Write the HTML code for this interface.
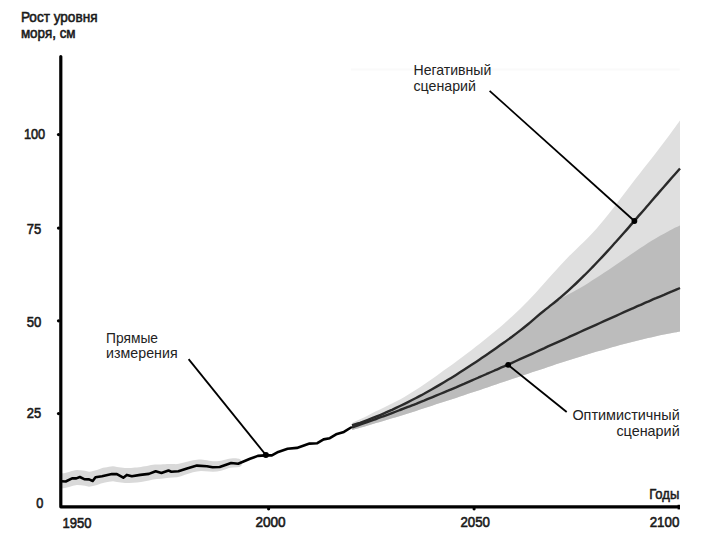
<!DOCTYPE html>
<html><head><meta charset="utf-8"><style>html,body{margin:0;padding:0;background:#fff;width:703px;height:543px;overflow:hidden}</style></head>
<body><svg width="703" height="543" viewBox="0 0 703 543" style="display:block">
<rect width="703" height="543" fill="#fff"/>
<path d="M61.0,473.4 C61.7,473.3 63.7,473.1 65.0,472.9 C66.3,472.7 67.7,472.3 69.0,471.9 C70.3,471.6 71.7,471.1 73.0,470.8 C74.3,470.5 75.7,470.1 77.0,470.0 C78.3,469.9 79.7,470.2 81.0,470.3 C82.3,470.4 83.7,470.5 85.0,470.7 C86.3,470.9 87.7,471.7 89.0,471.7 C90.3,471.8 91.7,471.3 93.0,471.0 C94.3,470.7 95.7,470.5 97.0,470.0 C98.3,469.6 99.7,468.8 101.0,468.4 C102.3,468.0 103.7,467.9 105.0,467.6 C106.3,467.4 107.7,467.0 109.0,466.8 C110.3,466.6 111.7,466.3 113.0,466.3 C114.3,466.3 115.7,466.7 117.0,466.9 C118.3,467.1 119.7,467.4 121.0,467.6 C122.3,467.8 123.7,468.0 125.0,468.1 C126.3,468.1 127.7,468.1 129.0,468.0 C130.3,467.9 131.7,467.8 133.0,467.7 C134.3,467.6 135.7,467.6 137.0,467.5 C138.3,467.3 139.7,467.1 141.0,466.9 C142.3,466.7 143.7,466.6 145.0,466.3 C146.3,466.1 147.7,465.8 149.0,465.5 C150.3,465.2 151.7,464.9 153.0,464.7 C154.3,464.6 155.7,464.6 157.0,464.5 C158.3,464.5 159.7,464.5 161.0,464.5 C162.3,464.4 163.7,464.4 165.0,464.3 C166.3,464.2 167.7,464.0 169.0,464.0 C170.3,464.0 171.7,464.0 173.0,464.0 C174.3,464.0 175.7,464.2 177.0,464.1 C178.3,463.9 179.7,463.6 181.0,463.3 C182.3,463.1 183.7,462.7 185.0,462.3 C186.3,461.9 187.7,461.6 189.0,461.2 C190.3,460.8 191.7,460.4 193.0,460.2 C194.3,459.9 195.7,459.8 197.0,459.7 C198.3,459.6 199.7,459.6 201.0,459.6 C202.3,459.7 203.7,459.9 205.0,460.1 C206.3,460.3 207.7,460.5 209.0,460.7 C210.3,460.9 211.7,461.1 213.0,461.2 C214.3,461.3 215.7,461.3 217.0,461.3 C218.3,461.2 219.7,460.9 221.0,460.7 C222.3,460.4 223.7,460.0 225.0,459.7 C226.3,459.4 227.7,458.9 229.0,458.7 C230.3,458.5 231.7,458.4 233.0,458.3 C234.3,458.3 236.3,458.4 237.0,458.4 Q242.0,458.4 242.0,463.5 Q242.0,467.3 237.0,467.3 L233.0,467.5 L229.0,468.1 L225.0,469.4 L221.0,470.7 L217.0,471.5 L213.0,471.7 L209.0,471.6 L205.0,471.2 L201.0,471.0 L197.0,471.4 L193.0,472.2 L189.0,473.5 L185.0,474.8 L181.0,476.2 L177.0,477.2 L173.0,477.4 L169.0,477.7 L165.0,478.2 L161.0,478.7 L157.0,479.0 L153.0,479.5 L149.0,480.5 L145.0,481.3 L141.0,481.9 L137.0,482.5 L133.0,482.7 L129.0,483.0 L125.0,483.1 L121.0,482.6 L117.0,481.9 L113.0,481.3 L109.0,481.8 L105.0,482.6 L101.0,483.4 L97.0,485.0 L93.0,486.0 L89.0,486.7 L85.0,485.7 L81.0,485.3 L77.0,485.0 L73.0,485.8 L69.0,486.9 L65.0,487.9 L61.0,488.4 Z" fill="#d9d9d9"/>
<path d="M352.0,423.0 C353.3,422.4 357.3,420.6 360.0,419.3 C362.7,418.1 365.3,416.7 368.0,415.4 C370.7,414.0 373.3,412.7 376.0,411.3 C378.7,410.0 381.3,408.7 384.0,407.4 C386.7,406.1 389.3,404.8 392.0,403.5 C394.7,402.2 397.3,400.8 400.0,399.4 C402.7,398.0 405.3,396.4 408.0,394.8 C410.7,393.2 413.3,391.6 416.0,389.8 C418.7,388.1 421.3,386.3 424.0,384.5 C426.7,382.7 429.3,380.8 432.0,378.9 C434.7,377.1 437.3,375.2 440.0,373.2 C442.7,371.3 445.3,369.4 448.0,367.5 C450.7,365.6 453.3,363.6 456.0,361.7 C458.7,359.7 461.3,357.7 464.0,355.7 C466.7,353.7 469.3,351.7 472.0,349.7 C474.7,347.6 477.3,345.6 480.0,343.5 C482.7,341.4 485.3,339.3 488.0,337.1 C490.7,334.9 493.3,332.7 496.0,330.5 C498.7,328.3 501.3,326.0 504.0,323.7 C506.7,321.3 509.3,319.0 512.0,316.5 C514.7,314.1 517.3,311.6 520.0,309.0 C522.7,306.5 525.3,303.8 528.0,301.1 C530.7,298.3 533.3,295.4 536.0,292.5 C538.7,289.6 541.3,286.6 544.0,283.6 C546.7,280.7 549.3,277.6 552.0,274.6 C554.7,271.6 557.3,268.6 560.0,265.7 C562.7,262.8 565.3,260.0 568.0,257.3 C570.7,254.5 573.3,252.0 576.0,249.4 C578.7,246.8 581.3,244.3 584.0,241.7 C586.7,239.1 589.3,236.5 592.0,233.6 C594.7,230.8 597.3,227.8 600.0,224.6 C602.7,221.5 605.3,218.1 608.0,214.8 C610.7,211.4 613.3,207.9 616.0,204.4 C618.7,200.9 621.3,197.4 624.0,193.9 C626.7,190.4 629.3,186.9 632.0,183.5 C634.7,180.0 637.3,176.6 640.0,173.2 C642.7,169.8 645.3,166.4 648.0,163.0 C650.7,159.6 653.3,156.1 656.0,152.7 C658.7,149.2 661.3,145.8 664.0,142.3 C666.7,138.8 669.3,135.2 672.0,131.6 C674.7,128.0 678.7,122.4 680.0,120.6 L680.0,331.6 C678.7,331.9 674.7,332.6 672.0,333.1 C669.3,333.6 666.7,334.1 664.0,334.6 C661.3,335.2 658.7,335.7 656.0,336.3 C653.3,336.9 650.7,337.5 648.0,338.1 C645.3,338.7 642.7,339.4 640.0,340.0 C637.3,340.6 634.7,341.3 632.0,342.0 C629.3,342.7 626.7,343.4 624.0,344.1 C621.3,344.8 618.7,345.5 616.0,346.2 C613.3,346.9 610.7,347.7 608.0,348.4 C605.3,349.2 602.7,350.0 600.0,350.8 C597.3,351.5 594.7,352.3 592.0,353.1 C589.3,353.9 586.7,354.7 584.0,355.6 C581.3,356.4 578.7,357.2 576.0,358.0 C573.3,358.9 570.7,359.7 568.0,360.6 C565.3,361.4 562.7,362.3 560.0,363.1 C557.3,364.0 554.7,364.9 552.0,365.8 C549.3,366.6 546.7,367.5 544.0,368.4 C541.3,369.3 538.7,370.2 536.0,371.1 C533.3,371.9 530.7,372.8 528.0,373.7 C525.3,374.6 522.7,375.5 520.0,376.4 C517.3,377.3 514.7,378.2 512.0,379.1 C509.3,380.0 506.7,380.9 504.0,381.8 C501.3,382.7 498.7,383.6 496.0,384.5 C493.3,385.4 490.7,386.3 488.0,387.2 C485.3,388.1 482.7,389.0 480.0,389.9 C477.3,390.8 474.7,391.7 472.0,392.6 C469.3,393.5 466.7,394.3 464.0,395.2 C461.3,396.1 458.7,397.0 456.0,397.9 C453.3,398.8 450.7,399.6 448.0,400.5 C445.3,401.4 442.7,402.3 440.0,403.1 C437.3,404.0 434.7,404.9 432.0,405.7 C429.3,406.6 426.7,407.5 424.0,408.3 C421.3,409.2 418.7,410.0 416.0,410.9 C413.3,411.7 410.7,412.5 408.0,413.4 C405.3,414.2 402.7,415.0 400.0,415.9 C397.3,416.7 394.7,417.5 392.0,418.3 C389.3,419.1 386.7,419.9 384.0,420.7 C381.3,421.5 378.7,422.3 376.0,423.1 C373.3,423.9 370.7,424.7 368.0,425.4 C365.3,426.2 362.7,427.0 360.0,427.7 C357.3,428.5 353.3,429.6 352.0,430.0 Z" fill="#dfdfdf"/>
<path d="M352.0,425.5 C353.3,425.0 357.3,423.7 360.0,422.8 C362.7,421.8 365.3,420.8 368.0,419.8 C370.7,418.8 373.3,417.8 376.0,416.7 C378.7,415.6 381.3,414.5 384.0,413.3 C386.7,412.2 389.3,411.0 392.0,409.8 C394.7,408.5 397.3,407.3 400.0,406.0 C402.7,404.7 405.3,403.4 408.0,402.1 C410.7,400.7 413.3,399.4 416.0,398.0 C418.7,396.6 421.3,395.1 424.0,393.7 C426.7,392.2 429.3,390.7 432.0,389.2 C434.7,387.7 437.3,386.2 440.0,384.6 C442.7,383.0 445.3,381.4 448.0,379.8 C450.7,378.2 453.3,376.6 456.0,374.9 C458.7,373.2 461.3,371.5 464.0,369.8 C466.7,368.1 469.3,366.4 472.0,364.6 C474.7,362.8 477.3,361.1 480.0,359.3 C482.7,357.5 485.3,355.6 488.0,353.8 C490.7,351.9 493.3,350.1 496.0,348.2 C498.7,346.3 501.3,344.4 504.0,342.5 C506.7,340.6 509.3,338.6 512.0,336.7 C514.7,334.7 517.3,332.7 520.0,330.6 C522.7,328.5 525.3,326.4 528.0,324.2 C530.7,322.0 533.3,319.6 536.0,317.4 C538.7,315.1 541.3,312.9 544.0,310.8 C546.7,308.6 550.0,306.2 552.0,304.4 C554.0,302.7 554.0,301.6 556.0,300.3 C558.0,299.0 561.3,298.0 564.0,296.7 C566.7,295.4 569.3,294.0 572.0,292.6 C574.7,291.1 577.3,289.6 580.0,288.0 C582.7,286.5 585.3,284.9 588.0,283.2 C590.7,281.5 593.3,279.8 596.0,278.1 C598.7,276.4 601.3,274.6 604.0,272.8 C606.7,271.0 609.3,269.2 612.0,267.4 C614.7,265.5 617.3,263.7 620.0,261.9 C622.7,260.0 625.3,258.2 628.0,256.4 C630.7,254.6 633.3,252.7 636.0,251.0 C638.7,249.2 641.3,247.4 644.0,245.7 C646.7,244.0 649.3,242.3 652.0,240.6 C654.7,239.0 657.3,237.4 660.0,235.8 C662.7,234.3 665.3,232.8 668.0,231.4 C670.7,230.0 674.0,228.3 676.0,227.3 C678.0,226.4 679.3,225.8 680.0,225.5 L680.0,331.6 C678.7,331.9 674.7,332.6 672.0,333.1 C669.3,333.6 666.7,334.1 664.0,334.6 C661.3,335.2 658.7,335.7 656.0,336.3 C653.3,336.9 650.7,337.5 648.0,338.1 C645.3,338.7 642.7,339.4 640.0,340.0 C637.3,340.6 634.7,341.3 632.0,342.0 C629.3,342.7 626.7,343.4 624.0,344.1 C621.3,344.8 618.7,345.5 616.0,346.2 C613.3,346.9 610.7,347.7 608.0,348.4 C605.3,349.2 602.7,350.0 600.0,350.8 C597.3,351.5 594.7,352.3 592.0,353.1 C589.3,353.9 586.7,354.7 584.0,355.6 C581.3,356.4 578.7,357.2 576.0,358.0 C573.3,358.9 570.7,359.7 568.0,360.6 C565.3,361.4 562.7,362.3 560.0,363.1 C557.3,364.0 554.7,364.9 552.0,365.8 C549.3,366.6 546.7,367.5 544.0,368.4 C541.3,369.3 538.7,370.2 536.0,371.1 C533.3,371.9 530.7,372.8 528.0,373.7 C525.3,374.6 522.7,375.5 520.0,376.4 C517.3,377.3 514.7,378.2 512.0,379.1 C509.3,380.0 506.7,380.9 504.0,381.8 C501.3,382.7 498.7,383.6 496.0,384.5 C493.3,385.4 490.7,386.3 488.0,387.2 C485.3,388.1 482.7,389.0 480.0,389.9 C477.3,390.8 474.7,391.7 472.0,392.6 C469.3,393.5 466.7,394.3 464.0,395.2 C461.3,396.1 458.7,397.0 456.0,397.9 C453.3,398.8 450.7,399.6 448.0,400.5 C445.3,401.4 442.7,402.3 440.0,403.1 C437.3,404.0 434.7,404.9 432.0,405.7 C429.3,406.6 426.7,407.5 424.0,408.3 C421.3,409.2 418.7,410.0 416.0,410.9 C413.3,411.7 410.7,412.5 408.0,413.4 C405.3,414.2 402.7,415.0 400.0,415.9 C397.3,416.7 394.7,417.5 392.0,418.3 C389.3,419.1 386.7,419.9 384.0,420.7 C381.3,421.5 378.7,422.3 376.0,423.1 C373.3,423.9 370.7,424.7 368.0,425.4 C365.3,426.2 362.7,427.0 360.0,427.7 C357.3,428.5 353.3,429.6 352.0,430.0 Z" fill="#bcbcbc"/>
<path d="M352.0,425.5 C353.3,425.0 357.3,423.7 360.0,422.8 C362.7,421.8 365.3,420.8 368.0,419.8 C370.7,418.8 373.3,417.8 376.0,416.7 C378.7,415.6 381.3,414.5 384.0,413.3 C386.7,412.2 389.3,411.0 392.0,409.8 C394.7,408.5 397.3,407.3 400.0,406.0 C402.7,404.7 405.3,403.4 408.0,402.1 C410.7,400.7 413.3,399.4 416.0,398.0 C418.7,396.6 421.3,395.1 424.0,393.7 C426.7,392.2 429.3,390.7 432.0,389.2 C434.7,387.7 437.3,386.2 440.0,384.6 C442.7,383.0 445.3,381.4 448.0,379.8 C450.7,378.2 453.3,376.6 456.0,374.9 C458.7,373.2 461.3,371.5 464.0,369.8 C466.7,368.1 469.3,366.4 472.0,364.6 C474.7,362.8 477.3,361.1 480.0,359.3 C482.7,357.5 485.3,355.6 488.0,353.8 C490.7,351.9 493.3,350.1 496.0,348.2 C498.7,346.3 501.3,344.4 504.0,342.5 C506.7,340.6 509.3,338.6 512.0,336.7 C514.7,334.7 517.3,332.7 520.0,330.6 C522.7,328.5 525.3,326.4 528.0,324.2 C530.7,322.0 533.3,319.6 536.0,317.4 C538.7,315.1 541.3,312.9 544.0,310.8 C546.7,308.6 549.3,306.6 552.0,304.4 C554.7,302.3 557.3,300.1 560.0,297.9 C562.7,295.6 565.3,293.3 568.0,290.9 C570.7,288.5 573.3,286.0 576.0,283.5 C578.7,281.0 581.3,278.4 584.0,275.7 C586.7,273.1 589.3,270.4 592.0,267.6 C594.7,264.9 597.3,262.1 600.0,259.2 C602.7,256.4 605.3,253.5 608.0,250.6 C610.7,247.7 613.3,244.7 616.0,241.8 C618.7,238.8 621.3,235.8 624.0,232.8 C626.7,229.8 629.3,226.7 632.0,223.6 C634.7,220.6 637.3,217.5 640.0,214.4 C642.7,211.4 645.3,208.3 648.0,205.2 C650.7,202.1 653.3,199.0 656.0,195.9 C658.7,192.8 661.3,189.7 664.0,186.7 C666.7,183.6 669.3,180.6 672.0,177.5 C674.7,174.5 678.7,170.0 680.0,168.5" fill="none" stroke="#2a2a2a" stroke-width="2.4" stroke-linejoin="round"/>
<path d="M352.0,427.5 C353.3,427.0 357.3,425.7 360.0,424.7 C362.7,423.8 365.3,422.9 368.0,421.9 C370.7,421.0 373.3,420.0 376.0,419.0 C378.7,418.1 381.3,417.1 384.0,416.1 C386.7,415.1 389.3,414.1 392.0,413.1 C394.7,412.1 397.3,411.1 400.0,410.0 C402.7,409.0 405.3,408.0 408.0,406.9 C410.7,405.9 413.3,404.8 416.0,403.8 C418.7,402.7 421.3,401.6 424.0,400.6 C426.7,399.5 429.3,398.4 432.0,397.3 C434.7,396.2 437.3,395.1 440.0,394.0 C442.7,392.9 445.3,391.8 448.0,390.7 C450.7,389.5 453.3,388.4 456.0,387.3 C458.7,386.1 461.3,385.0 464.0,383.9 C466.7,382.7 469.3,381.6 472.0,380.4 C474.7,379.3 477.3,378.1 480.0,376.9 C482.7,375.8 485.3,374.6 488.0,373.4 C490.7,372.3 493.3,371.1 496.0,369.9 C498.7,368.7 501.3,367.5 504.0,366.4 C506.7,365.2 509.3,364.0 512.0,362.8 C514.7,361.6 517.3,360.4 520.0,359.2 C522.7,358.0 525.3,356.8 528.0,355.6 C530.7,354.4 533.3,353.2 536.0,352.0 C538.7,350.8 541.3,349.6 544.0,348.4 C546.7,347.1 549.3,345.9 552.0,344.7 C554.7,343.5 557.3,342.3 560.0,341.1 C562.7,339.9 565.3,338.7 568.0,337.5 C570.7,336.3 573.3,335.0 576.0,333.8 C578.7,332.6 581.3,331.4 584.0,330.2 C586.7,329.0 589.3,327.8 592.0,326.6 C594.7,325.4 597.3,324.2 600.0,323.0 C602.7,321.8 605.3,320.6 608.0,319.4 C610.7,318.2 613.3,317.0 616.0,315.8 C618.7,314.6 621.3,313.4 624.0,312.2 C626.7,311.0 629.3,309.9 632.0,308.7 C634.7,307.5 637.3,306.3 640.0,305.2 C642.7,304.0 645.3,302.8 648.0,301.7 C650.7,300.5 653.3,299.3 656.0,298.2 C658.7,297.0 661.3,295.9 664.0,294.8 C666.7,293.6 669.3,292.5 672.0,291.4 C674.7,290.2 678.7,288.6 680.0,288.0" fill="none" stroke="#2a2a2a" stroke-width="2.4" stroke-linejoin="round"/>
<polyline points="61.4,481.3 65.7,481.5 72.1,478.4 76.3,478.4 79.9,477.0 84.2,479.1 89.1,479.4 92.7,481.0 95.5,477.3 102.0,476.3 111.9,474.1 116.9,474.1 123.3,477.7 126.8,474.9 131.8,476.3 140.3,474.9 148.9,473.9 155.7,471.3 161.4,473.0 168.5,470.5 171.3,471.7 178.4,471.3 187.0,468.4 196.9,465.6 206.9,466.3 212.6,467.3 219.7,467.0 231.1,463.0 238.2,463.7 250.0,458.8 257.8,455.9 265.6,455.4 271.9,455.4 278.2,451.9 287.6,448.8 296.9,447.9 309.5,443.6 317.3,443.2 323.6,439.4 329.8,438.2 336.1,434.3 343.9,431.9 351.0,427.5" fill="none" stroke="#000" stroke-width="2.6" stroke-linejoin="round" stroke-linecap="round"/>
<line x1="351" y1="69.4" x2="679.8" y2="69.4" stroke="#fafafa" stroke-width="2"/>
<path d="M60.8,56.5 V506.8 H678.2" fill="none" stroke="#000" stroke-width="3.2" stroke-linecap="round" stroke-linejoin="round"/>
<rect x="677.6" y="504.8" width="2.4" height="4.6" fill="#000"/>
<g fill="#000">
<circle cx="58.5" cy="134.6" r="1.6"/><circle cx="58.5" cy="228.1" r="1.6"/><circle cx="58.5" cy="320.8" r="1.6"/><circle cx="58.5" cy="413.6" r="1.6"/>
<circle cx="268.6" cy="508.8" r="1.6"/><circle cx="474.1" cy="508.8" r="1.6"/>
</g>
<g stroke="#000" stroke-width="1.8" fill="none">
<line x1="188.6" y1="359.1" x2="265.9" y2="455"/>
<line x1="489.6" y1="90.8" x2="634.4" y2="221"/>
<line x1="508.2" y1="364.9" x2="566.7" y2="412"/>
</g>
<g fill="#000"><circle cx="265.9" cy="455" r="3"/><circle cx="634.4" cy="221" r="2.9"/><circle cx="508.2" cy="364.8" r="2.9"/></g>
<g font-family='"Liberation Sans", sans-serif'>
<text x="20.9" y="21.9" font-size="15" font-weight="normal" fill="#1a1a1a" stroke="#1a1a1a" stroke-width="0.6" textLength="76.6" lengthAdjust="spacingAndGlyphs">Рост уровня</text>
<text x="20.9" y="38.3" font-size="15" font-weight="normal" fill="#1a1a1a" stroke="#1a1a1a" stroke-width="0.6" textLength="54.7" lengthAdjust="spacingAndGlyphs">моря, см</text>
<text x="23.9" y="139.1" font-size="14.5" font-weight="normal" fill="#1a1a1a" stroke="#1a1a1a" stroke-width="0.6" textLength="21.300000000000004" lengthAdjust="spacingAndGlyphs">100</text>
<text x="26.8" y="233.8" font-size="14.5" font-weight="normal" fill="#1a1a1a" stroke="#1a1a1a" stroke-width="0.6" textLength="14.499999999999996" lengthAdjust="spacingAndGlyphs">75</text>
<text x="26.8" y="326.9" font-size="14.5" font-weight="normal" fill="#1a1a1a" stroke="#1a1a1a" stroke-width="0.6" textLength="14.599999999999998" lengthAdjust="spacingAndGlyphs">50</text>
<text x="26.8" y="417.8" font-size="14.5" font-weight="normal" fill="#1a1a1a" stroke="#1a1a1a" stroke-width="0.6" textLength="14.400000000000002" lengthAdjust="spacingAndGlyphs">25</text>
<text x="36.2" y="507.9" font-size="14.5" font-weight="normal" fill="#1a1a1a" stroke="#1a1a1a" stroke-width="0.6" textLength="7.099999999999994" lengthAdjust="spacingAndGlyphs">0</text>
<text x="62.6" y="527.5" font-size="14.5" font-weight="normal" fill="#1a1a1a" stroke="#1a1a1a" stroke-width="0.6" textLength="28.999999999999993" lengthAdjust="spacingAndGlyphs">1950</text>
<text x="255.4" y="527.4" font-size="14.5" font-weight="normal" fill="#1a1a1a" stroke="#1a1a1a" stroke-width="0.6" textLength="30.200000000000017" lengthAdjust="spacingAndGlyphs">2000</text>
<text x="460.5" y="527.2" font-size="14.5" font-weight="normal" fill="#1a1a1a" stroke="#1a1a1a" stroke-width="0.6" textLength="29.5" lengthAdjust="spacingAndGlyphs">2050</text>
<text x="649.7" y="526.8" font-size="14.5" font-weight="normal" fill="#1a1a1a" stroke="#1a1a1a" stroke-width="0.6" textLength="29.699999999999932" lengthAdjust="spacingAndGlyphs">2100</text>
<text x="649.2" y="498.8" font-size="14.5" font-weight="normal" fill="#1a1a1a" stroke="#1a1a1a" stroke-width="0.55" textLength="30.1" lengthAdjust="spacingAndGlyphs">Годы</text>
<text x="413.5" y="75" font-size="14.6" font-weight="normal" fill="#222" textLength="77.80000000000001" lengthAdjust="spacingAndGlyphs">Негативный</text>
<text x="413.5" y="91.3" font-size="14.6" font-weight="normal" fill="#222" textLength="62.5" lengthAdjust="spacingAndGlyphs">сценарий</text>
<text x="106.1" y="343.2" font-size="14.6" font-weight="normal" fill="#222" textLength="51.900000000000006" lengthAdjust="spacingAndGlyphs">Прямые</text>
<text x="106.1" y="358.3" font-size="14.6" font-weight="normal" fill="#222" textLength="71.5" lengthAdjust="spacingAndGlyphs">измерения</text>
<text x="572.4" y="419.9" font-size="14.6" font-weight="normal" fill="#222" textLength="107.30000000000007" lengthAdjust="spacingAndGlyphs">Оптимистичный</text>
<text x="616.4" y="435.9" font-size="14.6" font-weight="normal" fill="#222" textLength="63.30000000000007" lengthAdjust="spacingAndGlyphs">сценарий</text>
</g>
</svg></body></html>
